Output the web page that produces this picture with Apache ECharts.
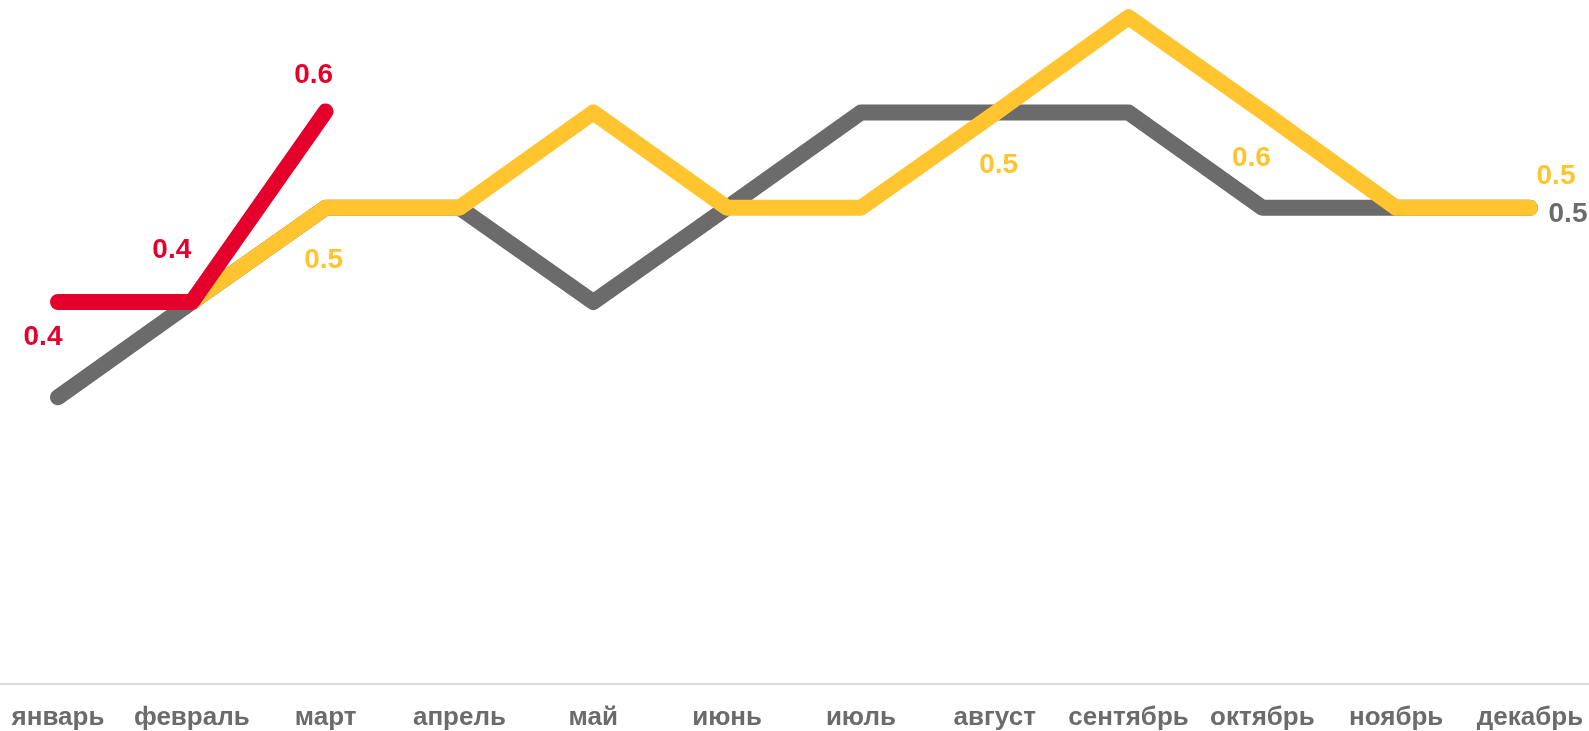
<!DOCTYPE html>
<html>
<head>
<meta charset="utf-8">
<script src="https://cdn.jsdelivr.net/npm/echarts@6/dist/echarts.min.js"></script>
<style>
html,body{margin:0;padding:0;background:#fff;}
#c{width:1589px;height:731px;}
</style>
</head>
<body>
<div id="c"></div>
<script>
const months = ['январь','февраль','март','апрель','май','июнь','июль','август','сентябрь','октябрь','ноябрь','декабрь'];
const grayValues   = [0.275, 0.367, 0.458, 0.458, 0.367, 0.458, 0.55, 0.55, 0.55, 0.458, 0.458, 0.458];
const yellowValues = [null, 0.367, 0.458, 0.458, 0.55, 0.458, 0.458, 0.549, 0.642, 0.551, 0.458, 0.458];
const redValues    = [0.367, 0.367, 0.551, null, null, null, null, null, null, null, null, null];

const RED = '#e4002b', YELLOW = '#ffc42e', GRAY = '#6b6b6b';
const FONT = '"Liberation Sans", Arial, sans-serif';

function lab(color, dx, dy) {
  return {
    show: true, position: 'inside', offset: [dx, dy],
    color: color, fontSize: 28, fontWeight: 'bold', fontFamily: FONT,
    formatter: p => Number(p.value).toFixed(1)
  };
}
function build(values, labels) {
  return values.map((v, i) => labels[i] ? { value: v, label: labels[i] } : v);
}

const redLabels = { 0: lab(RED, -15, 35), 1: lab(RED, -20, -52), 2: lab(RED, -12, -36) };
const yellowLabels = { 2: lab(YELLOW, -2, 52), 7: lab(YELLOW, 4, 52), 9: lab(YELLOW, -11, 47), 11: lab(YELLOW, 26, -32) };
const grayLabels = { 11: lab(GRAY, 38, 6) };

function lineSeries(name, values, labels, color, z) {
  return {
    name, type: 'line', data: build(values, labels), z,
    xAxisIndex: 0, yAxisIndex: 0,
    symbol: 'circle', symbolSize: 1, showSymbol: true,
    itemStyle: { color },
    lineStyle: { color, width: 16, cap: 'round', join: 'round' },
    label: { show: false },
    emphasis: { disabled: true },
    silent: true, animation: false
  };
}

const chart = echarts.init(document.getElementById('c'));
chart.setOption({
  backgroundColor: '#fff',
  animation: false,
  grid: [
    { left: 58, right: 59, top: 9, bottom: 47 },
    { left: 0, right: 0, top: 9, bottom: 47 }
  ],
  xAxis: [{
    type: 'category', data: months, boundaryGap: false, gridIndex: 0,
    axisLine: { show: false },
    axisTick: { show: false },
    axisLabel: { interval: 0, margin: 23, color: GRAY, fontSize: 26, fontWeight: 'bold', fontFamily: FONT }
  }, {
    type: 'value', min: 0, max: 1, gridIndex: 1,
    axisLine: { show: true, onZero: false, lineStyle: { color: '#dadada', width: 2 } },
    axisTick: { show: false }, axisLabel: { show: false }, splitLine: { show: false }
  }],
  yAxis: [
    { type: 'value', min: 0, max: 0.65, show: false, gridIndex: 0, splitLine: { show: false } },
    { type: 'value', min: 0, max: 1, show: false, gridIndex: 1, splitLine: { show: false } }
  ],
  series: [
    lineSeries('gray', grayValues, grayLabels, GRAY, 1),
    lineSeries('yellow', yellowValues, yellowLabels, YELLOW, 2),
    lineSeries('red', redValues, redLabels, RED, 3)
  ]
});
</script>
</body>
</html>
